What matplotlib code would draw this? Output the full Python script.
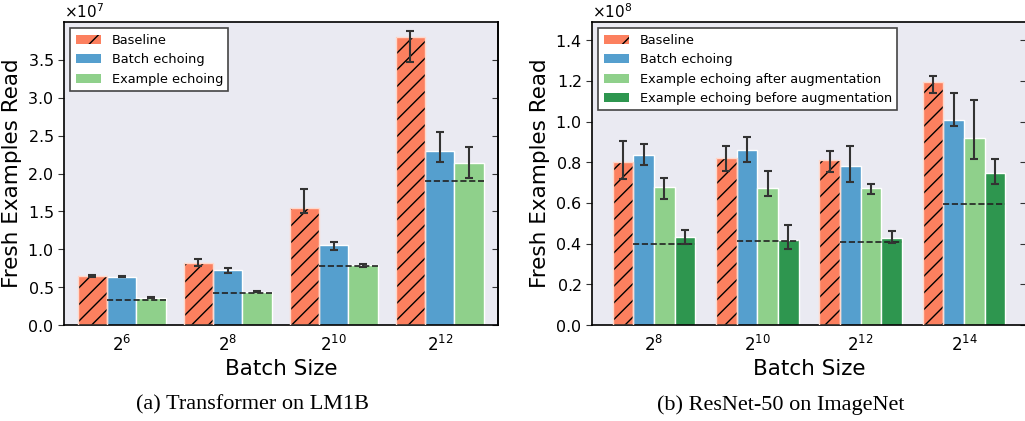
import numpy as np
import matplotlib
matplotlib.use("Agg")
from matplotlib import pyplot as plt
from matplotlib.patches import Patch
from matplotlib.ticker import ScalarFormatter

# ---- data ----
# (a) Transformer on LM1B, units of 1e7
lm_sizes = [r"$2^{6}$", r"$2^{8}$", r"$2^{10}$", r"$2^{12}$"]
lm_baseline = [0.65, 0.82, 1.55, 3.80]
lm_baseline_lo = [0.64, 0.78, 1.48, 3.47]
lm_baseline_hi = [0.66, 0.87, 1.79, 3.88]
lm_batch = [0.64, 0.72, 1.055, 2.30]
lm_batch_lo = [0.635, 0.69, 0.99, 2.15]
lm_batch_hi = [0.65, 0.75, 1.10, 2.55]
lm_example = [0.36, 0.44, 0.79, 2.14]
lm_example_lo = [0.355, 0.435, 0.77, 1.94]
lm_example_hi = [0.375, 0.455, 0.81, 2.35]
lm_ideal = [0.33, 0.42, 0.78, 1.90]

# (b) ResNet-50 on ImageNet, units of 1e8
in_sizes = [r"$2^{8}$", r"$2^{10}$", r"$2^{12}$", r"$2^{14}$"]
in_baseline = [0.80, 0.82, 0.81, 1.194]
in_baseline_lo = [0.717, 0.755, 0.752, 1.143]
in_baseline_hi = [0.903, 0.878, 0.857, 1.225]
in_batch = [0.837, 0.86, 0.782, 1.01]
in_batch_lo = [0.787, 0.80, 0.704, 0.98]
in_batch_hi = [0.89, 0.923, 0.878, 1.143]
in_after = [0.68, 0.675, 0.675, 0.921]
in_after_lo = [0.619, 0.632, 0.644, 0.816]
in_after_hi = [0.722, 0.755, 0.695, 1.105]
in_before = [0.433, 0.419, 0.429, 0.749]
in_before_lo = [0.40, 0.373, 0.402, 0.695]
in_before_hi = [0.465, 0.494, 0.46, 0.816]
in_ideal = [0.397, 0.414, 0.406, 0.596]

ORANGE = "#fc805f"
BLUE = "#559fce"
LGREEN = "#8fd08b"
DGREEN = "#2e964f"
BG = "#eaeaf2"

plt.rcParams["font.family"] = "DejaVu Sans"
plt.rcParams["mathtext.fontset"] = "dejavusans"
plt.rcParams["hatch.linewidth"] = 1.0


def draw_panel(ax, sizes, series, ideal, scale, width, xlim, ylim, yticks, labels, colors):
    x = np.arange(len(sizes))
    n = len(series)
    offsets = (np.arange(n) - (n - 1) / 2) * width
    for i, (vals, lo, hi) in enumerate(series):
        vals = np.array(vals) * scale
        lo = np.array(lo) * scale
        hi = np.array(hi) * scale
        pos = x + offsets[i]
        if i == 0:
            ax.bar(pos, vals, width, color=colors[i], edgecolor="k", hatch="//", linewidth=0, zorder=2)
            ax.bar(pos, vals, width, fill=False, edgecolor="#ffd9cc", linewidth=1, zorder=3)
        else:
            ax.bar(pos, vals, width, color=colors[i], edgecolor="white", linewidth=1, zorder=2)
        center = (lo + hi) / 2
        ax.errorbar(pos, center, yerr=(hi - lo) / 2, fmt="none", ecolor="#333333",
                    elinewidth=1.5, capsize=3, capthick=1.5, zorder=5)
    # dashed line from the second bar to the last one of each group
    for j, v in enumerate(ideal):
        x0 = x[j] + offsets[1] - width / 2
        x1 = x[j] + offsets[-1] + width / 2
        ax.plot([x0, x1], [v * scale, v * scale], color="#222222", ls="--", lw=1.2, zorder=4)

    ax.set_facecolor(BG)
    ax.set_xlim(*xlim)
    ax.set_ylim(*ylim)
    ax.set_yticks(yticks)
    fmt = ScalarFormatter(useMathText=True)
    fmt.set_powerlimits((0, 0))
    ax.yaxis.set_major_formatter(fmt)
    ax.yaxis.get_offset_text().set_fontsize(11)
    ax.set_xticks(x)
    ax.set_xticklabels(sizes, fontsize=12)
    ax.tick_params(axis="x", length=0, pad=7)
    ax.tick_params(axis="y", labelsize=11.5, direction="out", length=4, color="#333333")
    # inward ticks on the right side
    sec = ax.secondary_yaxis("right")
    sec.set_yticks(yticks)
    sec.tick_params(direction="in", length=4, color="#333333", labelright=False)
    sec.spines["right"].set_color("black")
    sec.spines["right"].set_linewidth(1.2)
    for sp in ax.spines.values():
        sp.set_color("black")
        sp.set_linewidth(1.2)
    ax.set_xlabel("Batch Size", fontsize=15.5, labelpad=3)
    ax.set_ylabel("Fresh Examples Read", fontsize=15.5, labelpad=4)

    handles = []
    for i, (lab, c) in enumerate(zip(labels, colors)):
        if i == 0:
            handles.append(Patch(facecolor=c, edgecolor="k", hatch="/", linewidth=0, label=lab))
        else:
            handles.append(Patch(facecolor=c, edgecolor="none", label=lab))
    leg = ax.legend(handles=handles, loc="upper left", fontsize=9.3, fancybox=False,
                    framealpha=1, edgecolor="#444444", handlelength=2.0)
    leg.get_frame().set_linewidth(1.2)


fig = plt.figure(figsize=(10.25, 4.21), dpi=100)
ax1 = fig.add_axes([64 / 1025, 96 / 421, 434 / 1025, 303 / 421])
ax2 = fig.add_axes([592 / 1025, 96 / 421, 434 / 1025, 303 / 421])

draw_panel(
    ax1, lm_sizes,
    [(lm_baseline, lm_baseline_lo, lm_baseline_hi),
     (lm_batch, lm_batch_lo, lm_batch_hi),
     (lm_example, lm_example_lo, lm_example_hi)],
    lm_ideal, 1e7, 0.277, (-0.545, 3.55), (0, 4.0e7), np.arange(0, 3.6, 0.5) * 1e7,
    ["Baseline", "Batch echoing", "Example echoing"],
    [ORANGE, BLUE, LGREEN],
)
draw_panel(
    ax2, in_sizes,
    [(in_baseline, in_baseline_lo, in_baseline_hi),
     (in_batch, in_batch_lo, in_batch_hi),
     (in_after, in_after_lo, in_after_hi),
     (in_before, in_before_lo, in_before_hi)],
    in_ideal, 1e8, 0.2, (-0.6, 3.6), (0, 1.49e8), np.arange(0, 1.41, 0.2) * 1e8,
    ["Baseline", "Batch echoing", "Example echoing after augmentation",
     "Example echoing before augmentation"],
    [ORANGE, BLUE, LGREEN, DGREEN],
)

fig.text(252 / 1025, 1 - 405 / 421, "(a) Transformer on LM1B", ha="center", va="center",
         fontsize=16, family="Liberation Serif")
fig.text(781 / 1025, 1 - 405 / 421, "(b) ResNet-50 on ImageNet", ha="center", va="center",
         fontsize=16, family="Liberation Serif")

fig.savefig("out.png", dpi=100)
